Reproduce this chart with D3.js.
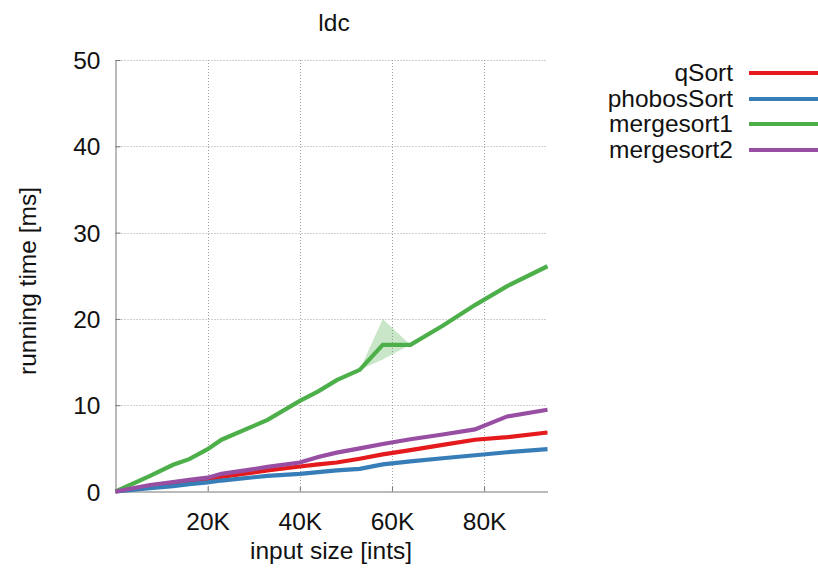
<!DOCTYPE html>
<html><head><meta charset="utf-8">
<script src="https://cdn.jsdelivr.net/npm/d3@7"></script>
<style>body{margin:0;background:#fff}svg{display:block}text{font-family:"Liberation Sans",sans-serif;fill:#111}</style>
</head><body><svg id="c" width="818" height="569"></svg>
<script>
const xK = [0, 7.5, 12.5, 16, 20, 23, 30, 33, 40, 44, 48, 53, 58, 64, 71, 78, 85, 93.75];
const qSort =      [0, 0.55, 0.9, 1.15, 1.35, 1.7, 2.2, 2.45, 2.9, 3.15, 3.36, 3.8, 4.3, 4.8, 5.4, 6.0, 6.3, 6.84];
const phobosSort = [0, 0.4, 0.62, 0.85, 1.05, 1.27, 1.65, 1.8, 2.05, 2.25, 2.45, 2.63, 3.15, 3.5, 3.85, 4.2, 4.55, 4.9];
const mergesort1 = [0, 1.8, 3.1, 3.75, 4.9, 6.0, 7.6, 8.3, 10.5, 11.6, 12.9, 14.1, 17.0, 17.0, 19.2, 21.6, 23.8, 26.1];
const mergesort1Lo = [0, 1.8, 3.1, 3.75, 4.9, 6.0, 7.6, 8.3, 10.5, 11.6, 12.9, 14.1, 15.3, 17.0, 19.2, 21.6, 23.8, 26.1];
const mergesort1Hi = [0, 1.8, 3.1, 3.75, 4.9, 6.0, 7.6, 8.3, 10.5, 11.6, 12.9, 14.1, 20.0, 17.0, 19.2, 21.6, 23.8, 26.1];
const mergesort2 = [0, 0.75, 1.1, 1.35, 1.6, 2.05, 2.6, 2.85, 3.36, 4.0, 4.5, 5.0, 5.5, 6.05, 6.6, 7.2, 8.7, 9.47];
const xTicks = [20, 40, 60, 80];
const yTicks = [0, 10, 20, 30, 40, 50];
const seriesNames = ["qSort", "phobosSort", "mergesort1", "mergesort2"];
const colors = ["#e41a1c", "#377eb8", "#4daf4a", "#984ea3"];
const seriesVals = [qSort, phobosSort, mergesort1, mergesort2];

const FS = 24.5;
const svg = d3.select("#c");
const L = 115.5, R = 547.5, T = 60, B = 491.5;
const x = d3.scaleLinear().domain([0, 93.75]).range([L, R]);
const y = d3.scaleLinear().domain([0, 50]).range([B, T]);

// grid
const g = svg.append("g");
g.selectAll(".gx").data(xTicks).enter().append("line")
  .attr("x1", d => Math.round(x(d)) + 0.5).attr("x2", d => Math.round(x(d)) + 0.5)
  .attr("y1", T).attr("y2", B).attr("stroke", "#a0a0a0").attr("stroke-dasharray", "1,2");
g.selectAll(".gy").data(yTicks.filter(d => d > 0)).enter().append("line")
  .attr("y1", d => Math.round(y(d)) + 0.5).attr("y2", d => Math.round(y(d)) + 0.5)
  .attr("x1", L).attr("x2", R).attr("stroke", "#a0a0a0").attr("stroke-dasharray", "1,2");

// axes
const xAxis = d3.axisBottom(x).tickValues(xTicks).tickFormat(d => d + "K").tickSizeInner(-5).tickSizeOuter(0);
const yAxis = d3.axisLeft(y).tickValues(yTicks).tickSizeInner(-5).tickSizeOuter(0).tickPadding(15);
const gx = svg.append("g").attr("transform", `translate(0,${B})`).call(xAxis);
const gy = svg.append("g").attr("transform", `translate(${L},0)`).call(yAxis);
[gx, gy].forEach(a => {
  a.select(".domain").attr("stroke", "#777").attr("stroke-width", 1);
  a.selectAll(".tick line").attr("stroke", "#777");
  a.selectAll(".tick text").attr("font-size", FS).attr("font-family", "Liberation Sans").attr("fill", "#111");
});
gx.selectAll(".tick text").attr("y", 38).attr("dy", 0);
gy.selectAll(".tick text").attr("dy", "0.35em");

// band
const pts = xK.map((v, i) => ({x: v, lo: mergesort1Lo[i], hi: mergesort1Hi[i]}));
svg.append("path").datum(pts)
  .attr("d", d3.area().x(d => x(d.x)).y0(d => y(d.lo)).y1(d => y(d.hi)))
  .attr("fill", "#4daf4a").attr("fill-opacity", 0.3);

// lines
const line = d3.line().x((d, i) => x(xK[i])).y(d => y(d));
seriesVals.forEach((vals, k) => {
  svg.append("path").datum(vals).attr("d", line).attr("fill", "none")
    .attr("stroke", colors[k]).attr("stroke-width", 4.2).attr("stroke-linejoin", "miter");
});

// legend
const legY = [73, 99, 124, 150];
seriesNames.forEach((n, k) => {
  svg.append("text").attr("x", 733).attr("y", legY[k]).attr("dy", "0.33em")
    .attr("text-anchor", "end").attr("font-size", FS).text(n);
  svg.append("line").attr("x1", 749).attr("x2", 818).attr("y1", legY[k]).attr("y2", legY[k])
    .attr("stroke", colors[k]).attr("stroke-width", 4.2);
});

// title and labels
svg.append("text").attr("x", 334).attr("y", 31).attr("text-anchor", "middle").attr("font-size", FS).text("ldc");
svg.append("text").attr("x", 331).attr("y", 559).attr("text-anchor", "middle").attr("font-size", FS).text("input size [ints]");
svg.append("text").attr("transform", "translate(36,281) rotate(-90)").attr("text-anchor", "middle").attr("font-size", FS).text("running time [ms]");
</script></body></html>
